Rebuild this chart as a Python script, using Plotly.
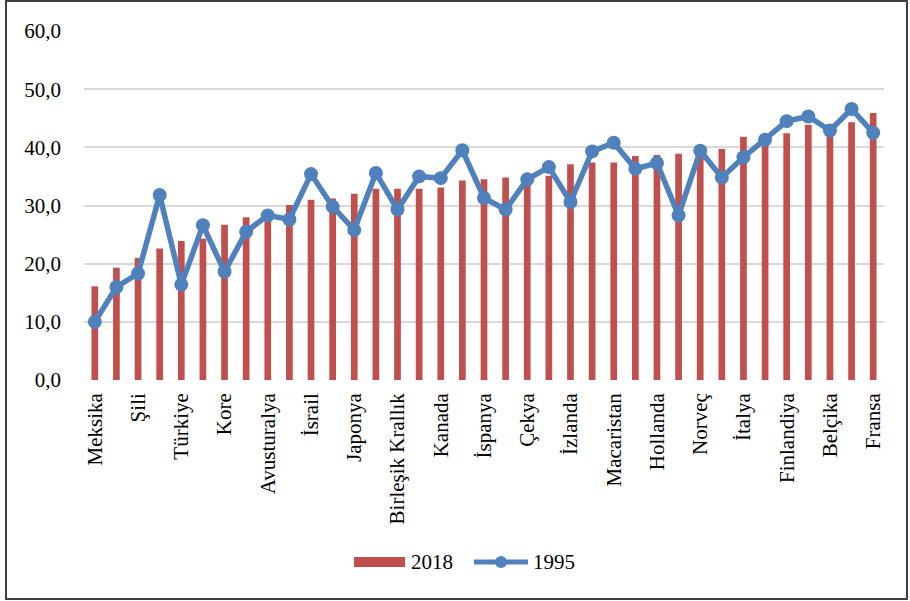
import plotly.graph_objects as go

countries = ["Meksika", "Kolombiya", "Şili", "İrlanda", "Türkiye", "ABD", "Kore", "İsviçre",
             "Avusturalya", "Litvanya", "İsrail", "Letonya", "Japonya", "Yeni Zelanda",
             "Birleşik Krallık", "Estonya", "Kanada", "Slovakya", "İspanya", "Portekiz",
             "Çekya", "Polonya", "İzlanda", "Slovenya", "Macaristan", "Lüksemburg",
             "Hollanda", "Yunanistan", "Norveç", "Almanya", "İtalya", "Avusturya",
             "Finlandiya", "İsveç", "Belçika", "Danimarka", "Fransa"]

values_2018 = [16.1, 19.3, 21.0, 22.6, 23.9, 24.3, 26.7, 28.0, 28.5, 30.1, 31.0, 31.2,
               32.0, 32.9, 32.9, 32.9, 33.1, 34.3, 34.5, 34.8, 35.0, 35.1, 37.1, 37.4,
               37.4, 38.5, 38.7, 38.9, 39.1, 39.7, 41.8, 42.0, 42.4, 43.9, 44.0, 44.3, 45.9]

values_1995 = [10.0, 16.0, 18.3, 31.8, 16.4, 26.6, 18.6, 25.5, 28.3, 27.6, 35.4, 29.8,
               25.8, 35.6, 29.3, 35.0, 34.7, 39.5, 31.3, 29.3, 34.5, 36.6, 30.6, 39.3,
               40.8, 36.3, 37.3, 28.3, 39.4, 34.8, 38.3, 41.3, 44.5, 45.3, 42.9, 46.6, 42.5]

labeled = countries[::2]

y_ticks = [0, 10, 20, 30, 40, 50, 60]
y_labels = ["0,0", "10,0", "20,0", "30,0", "40,0", "50,0", "60,0"]

BAR = "#C0504D"
LINE = "#4F81BD"
FONT = "Liberation Serif"
FS = 21

fig = go.Figure()
fig.add_trace(go.Bar(x=countries, y=values_2018, name="2018", marker_color=BAR,
                     marker_line_width=0))
fig.add_trace(go.Scatter(x=countries, y=values_1995, name="1995", mode="lines+markers",
                         line=dict(color=LINE, width=5.5),
                         marker=dict(color=LINE, size=14)))

# plot area in pixels: x 84..884, y 31..380
L, R, T, B = 84, 884, 31, 380
W, H = R - L, B - T
def px(x):
    return (x - L) / W
def py(y):
    return (B - y) / H

shapes = [
    dict(type="rect", xref="paper", yref="paper", x0=px(6), x1=px(907), y0=py(1), y1=py(599),
         line=dict(color="#404040", width=2), fillcolor="rgba(0,0,0,0)", layer="below"),
    dict(type="rect", xref="paper", yref="paper", x0=px(354), x1=px(405), y0=py(557), y1=py(567),
         line=dict(width=0), fillcolor=BAR),
    dict(type="line", xref="paper", yref="paper", x0=px(474), x1=px(528), y0=py(562), y1=py(562),
         line=dict(color=LINE, width=5)),
    dict(type="circle", xref="paper", yref="paper", x0=px(495), x1=px(507), y0=py(556), y1=py(568),
         line=dict(width=0), fillcolor=LINE),
]

annotations = [
    dict(text="2018", xref="paper", yref="paper", x=px(409), y=py(562), xanchor="left",
         yanchor="middle", showarrow=False, font=dict(family=FONT, size=FS, color="black")),
    dict(text="1995", xref="paper", yref="paper", x=px(531), y=py(562), xanchor="left",
         yanchor="middle", showarrow=False, font=dict(family=FONT, size=FS, color="black")),
]

fig.update_layout(
    width=910, height=601,
    margin=dict(l=L, r=910 - R, t=T, b=601 - B),
    paper_bgcolor="white", plot_bgcolor="white",
    showlegend=False,
    bargap=0.69,
    font=dict(family=FONT, size=FS, color="black"),
    shapes=shapes, annotations=annotations,
    xaxis=dict(type="category", range=[-0.5, len(countries) - 0.5], autorange=False,
               tickmode="array", tickvals=labeled, ticktext=labeled,
               tickangle=-90, showgrid=False, showline=False, zeroline=False,
               ticks="", ticklabelstandoff=8, tickfont=dict(family=FONT, size=FS, color="black")),
    yaxis=dict(range=[0, 60], autorange=False, tickvals=y_ticks, ticktext=y_labels, showgrid=True,
               gridcolor="#D9D9D9", gridwidth=2, zeroline=False, showline=False,
               ticks="", ticklabelstandoff=22, tickfont=dict(family=FONT, size=FS, color="black")),
)

fig.write_html("out.html")
